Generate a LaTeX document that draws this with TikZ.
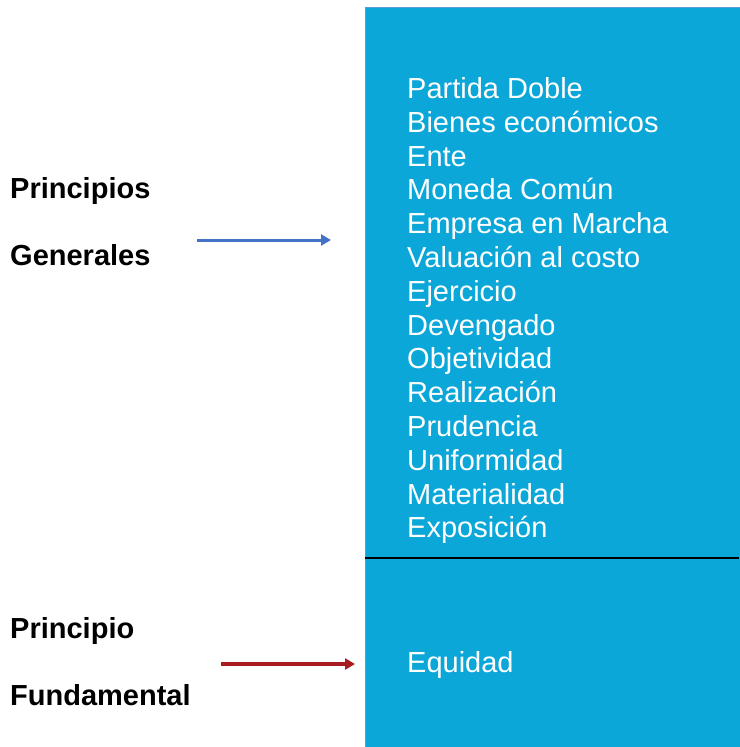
\documentclass[tikz,border=0pt]{standalone}
\usepackage{fontspec}
\setmainfont{Liberation Sans}
\usetikzlibrary{arrows.meta}
\definecolor{boxblue}{HTML}{0BA7D8}
\definecolor{edgeblue}{HTML}{5B9BD5}
\definecolor{arrowblue}{HTML}{4472C4}
\definecolor{arrowred}{HTML}{A61C20}
\tikzset{
  item/.style={anchor=base west, inner sep=0, text=white, font=\fontsize{29}{34}\selectfont},
  heading/.style={anchor=base west, inner sep=0, font=\fontsize{29}{34}\selectfont\bfseries},
}
\begin{document}
\begin{tikzpicture}[x=1pt, y=-1pt]
      \useasboundingbox (0,0) rectangle (739,747);
      \fill[boxblue] (365,7) rectangle (742,750);
      \draw[edgeblue, line width=0.8] (365,750) -- (365,7) -- (742,7);
      \draw[black, line width=1.6] (365,558) -- (739,558);
      \node[heading] (pg1) at (10,198) {Principios};
      \node[heading] (pg2) at (10,265) {Generales};
      \node[heading] (pf1) at (10,638) {Principio};
      \node[heading] (pf2) at (10,705) {Fundamental};
      \node[item] (l1) at (407,98.5) {Partida Doble};
      \node[item] (l2) at (407,132.3) {Bienes económicos};
      \node[item] (l3) at (407,166.1) {Ente};
      \node[item] (l4) at (407,199.9) {Moneda Común};
      \node[item] (l5) at (407,233.7) {Empresa en Marcha};
      \node[item] (l6) at (407,267.5) {Valuación al costo};
      \node[item] (l7) at (407,301.3) {Ejercicio};
      \node[item] (l8) at (407,335.1) {Devengado};
      \node[item] (l9) at (407,368.9) {Objetividad};
      \node[item] (l10) at (407,402.7) {Realización};
      \node[item] (l11) at (407,436.5) {Prudencia};
      \node[item] (l12) at (407,470.3) {Uniformidad};
      \node[item] (l13) at (407,504.1) {Materialidad};
      \node[item] (l14) at (407,537.9) {Exposición};
      \node[item] (eq) at (407,672) {Equidad};
      \coordinate (ag1) at (197,240);
      \coordinate (ag2) at (331,240);
      \coordinate (af1) at (221,664);
      \coordinate (af2) at (355,664);
      \draw[arrowblue, line width=3, -{Triangle[length=10pt, width=11pt]}] (ag1) -- (ag2);
      \draw[arrowred, line width=4, -{Triangle[length=10pt, width=11pt]}] (af1) -- (af2);
\end{tikzpicture}
\end{document}
